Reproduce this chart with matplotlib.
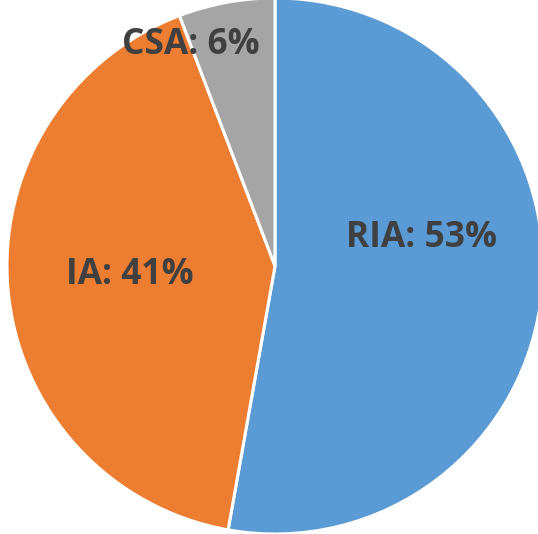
import matplotlib.pyplot as plt

# share of each category
categories = ['RIA', 'IA', 'CSA']
shares = [52.8, 41.4, 5.8]
colors = ['#5B9BD5', '#ED7D31', '#A5A5A5']

# label anchor points, in pie-radius units
label_pos = [(0.545, 0.105), (-0.54, -0.035), (-0.315, 0.825)]

fig = plt.figure(figsize=(5.38, 5.34), dpi=100)
ax = fig.add_axes([0, 0, 1, 1])

wedges, _ = ax.pie(shares, colors=colors, startangle=90, counterclock=False,
                   radius=1.0, wedgeprops=dict(edgecolor='white', linewidth=2.2))

for name, val, (x, y) in zip(categories, shares, label_pos):
    ax.text(x, y, f'{name}: {round(val)}%', ha='center', va='center',
            fontsize=25.5, fontweight='bold', color='#404040', family='Open Sans')

# pie centre sits at (275, 266) px with a 268 px radius; the right side is clipped
px = 268.0
ax.set_xlim(-275 / px, (538 - 275) / px)
ax.set_ylim(-(534 - 266) / px, 266 / px)
ax.set_aspect('equal')
ax.axis('off')

fig.savefig('out.png', dpi=100)
